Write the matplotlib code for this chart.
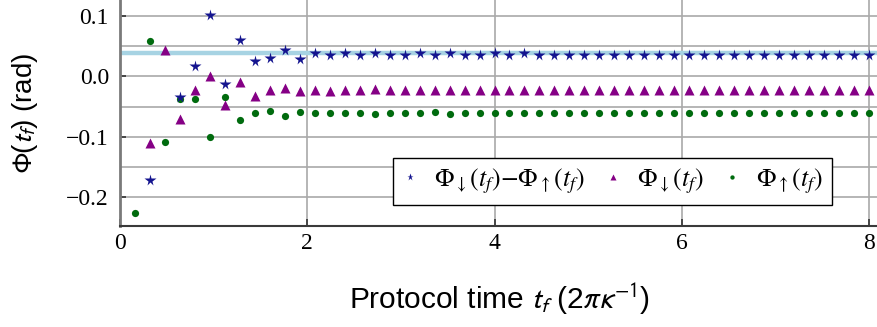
import numpy as np
import matplotlib
matplotlib.use("Agg")
import matplotlib.pyplot as plt
from matplotlib.ticker import MultipleLocator, FuncFormatter

# protocol times (units of 2*pi/kappa)
t_f = [0.16, 0.32, 0.48, 0.64, 0.80, 0.96, 1.12, 1.28, 1.44, 1.60,
       1.76, 1.92, 2.08, 2.24, 2.40, 2.56, 2.72, 2.88, 3.04, 3.20,
       3.36, 3.52, 3.68, 3.84, 4.00, 4.16, 4.32, 4.48, 4.64, 4.80,
       4.96, 5.12, 5.28, 5.44, 5.60, 5.76, 5.92, 6.08, 6.24, 6.40,
       6.56, 6.72, 6.88, 7.04, 7.20, 7.36, 7.52, 7.68, 7.84, 8.00]

# geometric phase of the spin-down branch (rad)
phi_down = [np.nan, -0.111, 0.044, -0.071, -0.022, 0.000, -0.048, -0.009, -0.033, -0.023,
            -0.020, -0.025, -0.023, -0.024, -0.023, -0.023, -0.021, -0.023, -0.023, -0.023,
            -0.023, -0.023, -0.023, -0.023, -0.023, -0.023, -0.023, -0.023, -0.023, -0.023,
            -0.023, -0.023, -0.023, -0.023, -0.023, -0.023, -0.023, -0.023, -0.023, -0.023,
            -0.023, -0.023, -0.023, -0.023, -0.023, -0.023, -0.023, -0.023, -0.023, -0.023]

# geometric phase of the spin-up branch (rad)
phi_up = [-0.227, 0.058, -0.109, -0.038, -0.038, -0.101, -0.035, -0.072, -0.060, -0.057,
          -0.066, -0.059, -0.061, -0.061, -0.060, -0.060, -0.063, -0.060, -0.060, -0.061,
          -0.059, -0.063, -0.060, -0.060, -0.060, -0.060, -0.060, -0.060, -0.060, -0.060,
          -0.060, -0.060, -0.060, -0.060, -0.060, -0.060, -0.060, -0.060, -0.060, -0.060,
          -0.060, -0.060, -0.060, -0.060, -0.060, -0.060, -0.060, -0.060, -0.060, -0.060]

# phase difference down - up (rad)
phi_diff = [np.nan, -0.171, 0.153, -0.035, 0.017, 0.101, -0.013, 0.061, 0.025, 0.031,
            0.043, 0.029, 0.038, 0.035, 0.038, 0.035, 0.038, 0.035, 0.035, 0.038,
            0.035, 0.038, 0.035, 0.035, 0.038, 0.035, 0.038, 0.035, 0.035, 0.035,
            0.035, 0.035, 0.035, 0.035, 0.035, 0.035, 0.035, 0.035, 0.035, 0.035,
            0.035, 0.035, 0.035, 0.035, 0.035, 0.035, 0.035, 0.035, 0.035, 0.035]

# adiabatic reference value (rad)
phi_ref = 0.0386

fig = plt.figure(figsize=(8.78, 3.27), dpi=100)
ax = fig.add_axes([120 / 878, 101 / 327, 758 / 878, 226 / 327])

ax.axhline(phi_ref, color="#a7d3e3", lw=3.2, zorder=2)
l_up, = ax.plot(t_f, phi_up, "o", color="#006b0e", ms=5.2, mec="none", zorder=3)
l_down, = ax.plot(t_f, phi_down, "^", color="#850085", ms=7.5, mec="none", zorder=4)
l_diff, = ax.plot(t_f, phi_diff, "*", color="#14148f", ms=8.5, mec="none", zorder=5)

ax.set_xlim(0, 8.096)
ax.set_ylim(-0.248, 0.1265)

ax.xaxis.set_major_locator(MultipleLocator(2))
ax.yaxis.set_major_locator(MultipleLocator(0.1))
ax.yaxis.set_minor_locator(MultipleLocator(0.05))
ax.yaxis.set_major_formatter(FuncFormatter(lambda v, pos: f"{v:.1f}".replace("-", "\u2212")))

ax.grid(True, which="major", axis="x", color="#a9a9a9", lw=1.2)
ax.grid(True, which="both", axis="y", color="#a9a9a9", lw=1.2)
ax.set_axisbelow(True)

for side in ("top", "right"):
    ax.spines[side].set_visible(False)
ax.spines["left"].set_color("#7a7a7a")
ax.spines["left"].set_linewidth(2)
ax.spines["bottom"].set_color("#3a3a3a")
ax.spines["bottom"].set_linewidth(1.5)

ax.tick_params(axis="x", direction="in", length=5, width=1.2, color="#333333", pad=5)
ax.tick_params(axis="y", which="major", direction="in", length=4, width=1.2, color="#333333", pad=8)
ax.tick_params(axis="y", which="minor", length=0)
for lab in ax.get_xticklabels() + ax.get_yticklabels():
    lab.set_fontfamily("Liberation Serif")
    lab.set_fontsize(17)

ax.set_xlabel(r"Protocol time $t_f$ (2$\pi\kappa^{-1}$)", family="Liberation Sans",
              fontsize=21.5, math_fontfamily="stixsans", labelpad=20)
ax.set_ylabel(r"$\Phi$($t_f$) (rad)", family="Liberation Sans",
              fontsize=20, math_fontfamily="stixsans")
ax.yaxis.set_label_coords(-0.105, 0.5)

leg = ax.legend([l_diff, l_down, l_up],
                [r"$\Phi_{\downarrow}(t_f){-}\Phi_{\uparrow}(t_f)$",
                 r"$\Phi_{\downarrow}(t_f)$", r"$\Phi_{\uparrow}(t_f)$"],
                loc="lower right", bbox_to_anchor=(0.939, 0.093), borderaxespad=0,
                ncol=3, markerscale=0.6, handlelength=0.6, handletextpad=0.63,
                columnspacing=0.8, borderpad=0.35, fancybox=False, framealpha=1,
                edgecolor="black", prop={"family": "Liberation Serif", "size": 18.5,
                                         "math_fontfamily": "stix"})
leg.get_frame().set_linewidth(1.0)

fig.savefig("out.png", dpi=100)
